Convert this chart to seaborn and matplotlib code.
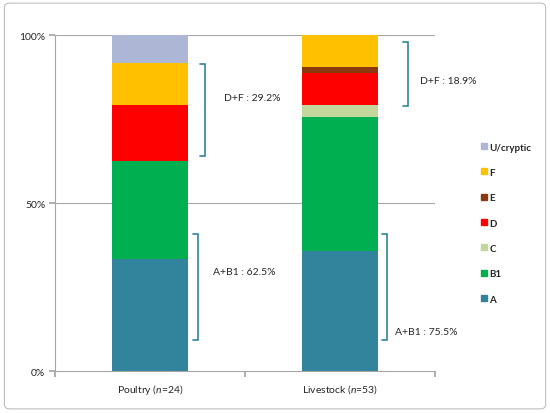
import numpy as np
import pandas as pd
import matplotlib
matplotlib.use("Agg")
import matplotlib.pyplot as plt
import seaborn as sns
from matplotlib.patches import FancyBboxPatch
from matplotlib.lines import Line2D

# Isolate counts per phylogroup (stack order bottom -> top)
SOURCES = ["Poultry ($\\it{n}$=24)", "Livestock ($\\it{n}$=53)"]
TOTALS = [24, 53]
GROUPS = ["A", "B1", "C", "D", "E", "F", "U/cryptic"]
COUNTS = {
    "A":         [8, 19],
    "B1":        [7, 21],
    "C":         [0, 2],
    "D":         [4, 5],
    "E":         [0, 1],
    "F":         [3, 5],
    "U/cryptic": [2, 0],
}
COLOURS = {
    "A": "#31849B",
    "B1": "#00B050",
    "C": "#C3D69B",
    "D": "#FF0000",
    "E": "#8B3A0F",
    "F": "#FFC000",
    "U/cryptic": "#AEB6D6",
}
ANNOT_LABELS = ["A+B1 : 62.5%", "A+B1 : 75.5%"]
DF_LABELS = ["D+F : 29.2%", "D+F : 18.9%"]

sns.set_theme(style="white")
plt.rcParams["font.family"] = ["Lato", "DejaVu Sans"]
plt.rcParams["mathtext.fontset"] = "custom"
plt.rcParams["mathtext.rm"] = "Lato"
plt.rcParams["mathtext.it"] = "Lato:italic"

# cumulative percentages
pct = pd.DataFrame({g: np.array(COUNTS[g]) / np.array(TOTALS) * 100 for g in GROUPS})
cum = pct.cumsum(axis=1)
cum["source"] = SOURCES

fig = plt.figure(figsize=(5.5, 4.14), dpi=100)
ax = fig.add_axes([0.1, 0.1014, 0.691, 0.8116])

# draw tallest cumulative first so lower segments sit on top
for g in reversed(GROUPS):
    sns.barplot(data=cum, x="source", y=g, color=COLOURS[g], width=0.4,
                saturation=1, linewidth=0, ax=ax, zorder=3)

ax.set_xlim(-0.5, 1.5)
ax.set_ylim(0, 100)
ax.set_xlabel("")
ax.set_ylabel("")

grid_c = "#A6A6A6"
ax.set_yticks([0, 50, 100])
ax.set_yticklabels(["0%", "50%", "100%"])
for y in [50, 100]:
    ax.axhline(y, color=grid_c, lw=0.8, zorder=1)
ax.set_xticks([-0.5, 0.5, 1.5])
ax.set_xticklabels([])
ax.set_xticks([0, 1], minor=True)
ax.set_xticklabels(SOURCES, minor=True)
ax.tick_params(axis="x", which="major", length=4, color=grid_c, direction="out", bottom=True)
ax.tick_params(axis="x", which="minor", length=0, pad=8, labelsize=7.5, colors="#262626")
ax.tick_params(axis="y", length=4, color=grid_c, direction="out", left=True, labelsize=7.5,
               pad=3, colors="#262626")
for s in ["top", "right"]:
    ax.spines[s].set_visible(False)
for s in ["left", "bottom"]:
    ax.spines[s].set_color(grid_c)
    ax.spines[s].set_linewidth(0.8)

# brackets
br_c = "#31849B"
def bracket(x, y0, y1, text, tx, ty):
    ax.plot([x - 0.025, x, x, x - 0.025], [y0, y0, y1, y1], color=br_c, lw=1.2,
            clip_on=False, zorder=4, solid_joinstyle="miter")
    ax.text(tx, ty, text, fontsize=7.5, color="#262626", va="center", ha="left", clip_on=False)

bracket(0.289, 91.5, 64.0, DF_LABELS[0], 0.39, 81.5)
bracket(0.253, 40.8, 9.2, ANNOT_LABELS[0], 0.33, 29.5)
bracket(1.358, 98.0, 79.0, DF_LABELS[1], 1.42, 86.5)
bracket(1.247, 40.8, 9.2, ANNOT_LABELS[1], 1.29, 11.8)

# legend
handles = [Line2D([], [], marker="s", ls="", color=COLOURS[g], markersize=5) for g in reversed(GROUPS)]
leg = fig.legend(handles, list(reversed(GROUPS)), loc="upper left", bbox_to_anchor=(0.865, 0.665),
                 frameon=False, prop={"weight": "bold", "size": 7}, labelspacing=1.68,
                 handlelength=0.6, handletextpad=0.3, borderpad=0)

# figure border
fig.patches.append(FancyBboxPatch((0.008, 0.01), 0.984, 0.98, boxstyle="round,pad=0,rounding_size=0.01",
                                  transform=fig.transFigure, fill=False, ec="#BFBFBF", lw=0.8))

fig.savefig("out.png", dpi=100)
